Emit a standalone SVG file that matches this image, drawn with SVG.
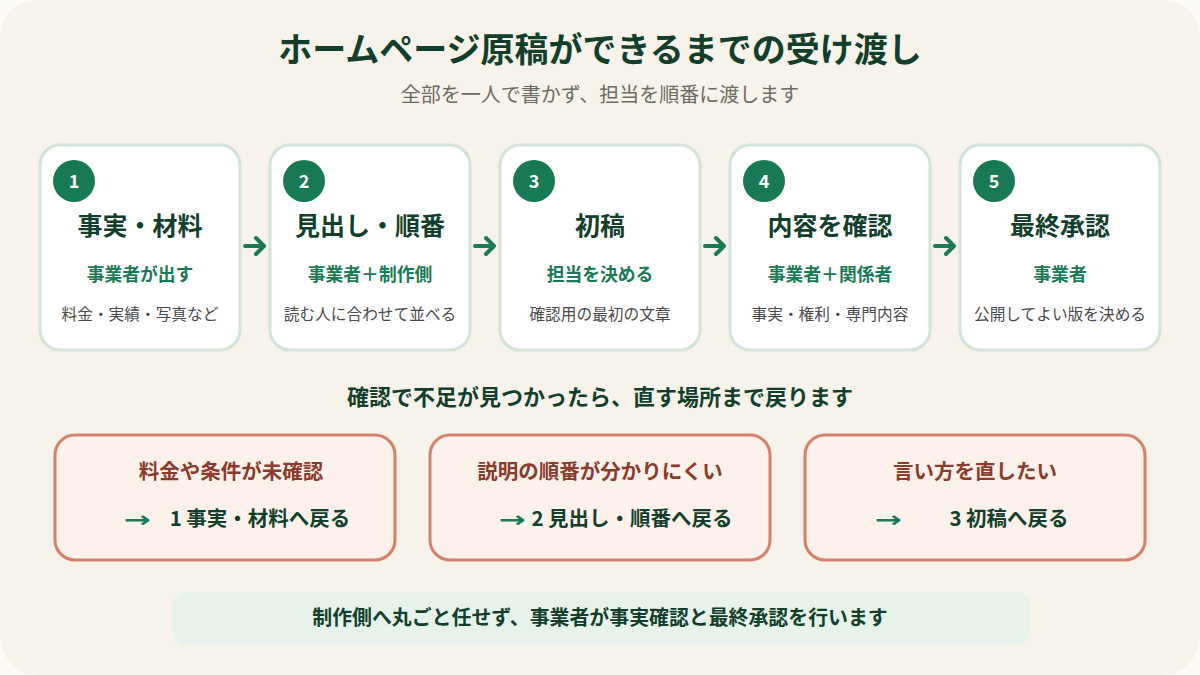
<svg xmlns="http://www.w3.org/2000/svg" width="1200" height="675" viewBox="0 0 1200 675">
<style>
text{font-family:"Noto Sans CJK JP","Noto Sans",sans-serif;text-anchor:middle}
.title{font-size:34px;font-weight:700;fill:#123f2c}
.sub{font-size:20px;fill:#6b6b66}
.card{fill:#ffffff;stroke:#d3e4da;stroke-width:3}
.badge{fill:#177a55}
.num{font-size:18px;font-weight:700;fill:#ffffff}
.ct{font-size:25px;font-weight:700;fill:#123f2c}
.cg{font-size:17.8px;font-weight:700;fill:#1a7a55}
.cd{font-size:15.7px;fill:#4a4a4a}
.mid{font-size:22px;font-weight:700;fill:#123f2c}
.bk{fill:#fdf1ec;stroke:#d5816a;stroke-width:3}
.b1{font-size:20.5px;font-weight:700;fill:#8a3b2a}
.b2{font-size:20.5px;font-weight:700;fill:#123f2c}
.arr{font-family:"DejaVu Sans",sans-serif;font-size:22px;font-weight:700;fill:#1a7a55;text-anchor:start}
.note{fill:#e7f2ea}
.nt{font-size:19.9px;font-weight:700;fill:#123f2c}
.conn{fill:none;stroke:#1a7a55;stroke-width:4;stroke-linecap:round;stroke-linejoin:round}
</style>
<rect x="0" y="0" width="1200" height="675" fill="#fbfaf6"/>
<rect x="0" y="0" width="1200" height="675" rx="38" fill="#f7f3ea"/>
<g id="header">
<text class="title" x="600" y="62">ホームページ原稿ができるまでの受け渡し</text>
<text class="sub" x="600" y="102">全部を一人で書かず、担当を順番に渡します</text>
</g>
<g id="step1">
<rect class="card" x="40" y="145" width="200" height="205" rx="20"/>
<circle class="badge" cx="74" cy="181" r="21"/>
<text class="num" x="74" y="188">1</text>
<text class="ct" x="140" y="235">事実・材料</text>
<text class="cg" x="140" y="281">事業者が出す</text>
<text class="cd" x="140" y="320">料金・実績・写真など</text>
</g>
<g id="step2">
<rect class="card" x="270" y="145" width="200" height="205" rx="20"/>
<circle class="badge" cx="304" cy="181" r="21"/>
<text class="num" x="304" y="188">2</text>
<text class="ct" x="370" y="235">見出し・順番</text>
<text class="cg" x="370" y="281">事業者＋制作側</text>
<text class="cd" x="370" y="320">読む人に合わせて並べる</text>
</g>
<g id="step3">
<rect class="card" x="500" y="145" width="200" height="205" rx="20"/>
<circle class="badge" cx="534" cy="181" r="21"/>
<text class="num" x="534" y="188">3</text>
<text class="ct" x="600" y="235">初稿</text>
<text class="cg" x="600" y="281">担当を決める</text>
<text class="cd" x="600" y="320">確認用の最初の文章</text>
</g>
<g id="step4">
<rect class="card" x="730" y="145" width="200" height="205" rx="20"/>
<circle class="badge" cx="764" cy="181" r="21"/>
<text class="num" x="764" y="188">4</text>
<text class="ct" x="830" y="235">内容を確認</text>
<text class="cg" x="830" y="281">事業者＋関係者</text>
<text class="cd" x="830" y="320">事実・権利・専門内容</text>
</g>
<g id="step5">
<rect class="card" x="960" y="145" width="200" height="205" rx="20"/>
<circle class="badge" cx="994" cy="181" r="21"/>
<text class="num" x="994" y="188">5</text>
<text class="ct" x="1060" y="235">最終承認</text>
<text class="cg" x="1060" y="281">事業者</text>
<text class="cd" x="1060" y="320">公開してよい版を決める</text>
</g>
<g id="connectors">
<path class="conn" d="M245 246 H264 M256 238 L264 246 L256 254"/>
<path class="conn" d="M475 246 H494 M486 238 L494 246 L486 254"/>
<path class="conn" d="M705 246 H724 M716 238 L724 246 L716 254"/>
<path class="conn" d="M935 246 H954 M946 238 L954 246 L946 254"/>
</g>
<g id="loopback">
<text class="mid" x="600" y="405">確認で不足が見つかったら、直す場所まで戻ります</text>
</g>
<g id="back1">
<rect class="bk" x="55" y="435" width="340" height="125" rx="20"/>
<text class="b1" x="231" y="479">料金や条件が未確認</text>
<text class="arr" x="124" y="527" textLength="27" lengthAdjust="spacingAndGlyphs">→</text>
<text class="b2" x="260" y="526">1 事実・材料へ戻る</text>
</g>
<g id="back2">
<rect class="bk" x="430" y="435" width="340" height="125" rx="20"/>
<text class="b1" x="600" y="479">説明の順番が分かりにくい</text>
<text class="arr" x="499" y="527" textLength="27" lengthAdjust="spacingAndGlyphs">→</text>
<text class="b2" x="632" y="526">2 見出し・順番へ戻る</text>
</g>
<g id="back3">
<rect class="bk" x="805" y="435" width="340" height="125" rx="20"/>
<text class="b1" x="975" y="479">言い方を直したい</text>
<text class="arr" x="875" y="527" textLength="27" lengthAdjust="spacingAndGlyphs">→</text>
<text class="b2" x="1009" y="526">3 初稿へ戻る</text>
</g>
<g id="note">
<rect class="note" x="172" y="592" width="858" height="53" rx="14"/>
<text class="nt" x="600" y="625">制作側へ丸ごと任せず、事業者が事実確認と最終承認を行います</text>
</g>
</svg>
